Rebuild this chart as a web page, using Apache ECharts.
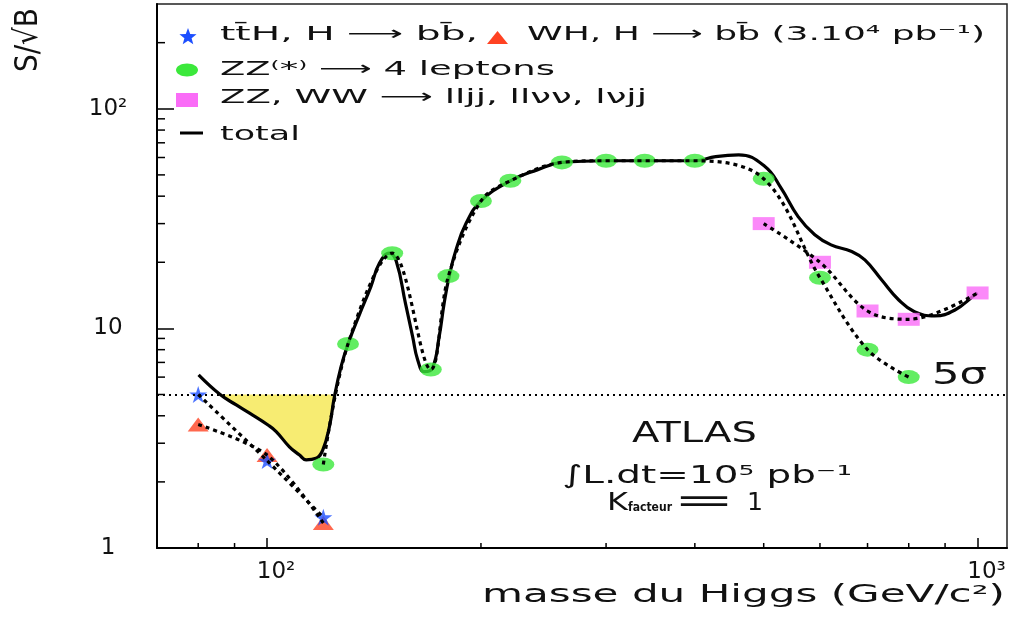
<!DOCTYPE html>
<html><head><meta charset="utf-8">
<script src="https://cdn.jsdelivr.net/npm/echarts@6/dist/echarts.min.js"></script>
<style>html,body{margin:0;padding:0;background:#fff}#c{width:1015px;height:617px}</style>
</head><body><div id="c"></div>
<script>
const FONT = '"DejaVu Sans", sans-serif';

// ---- data ----
const tthMass = [80, 100, 120];
const tthSig  = [5.0, 2.5, 1.38];
const whMass  = [80, 100, 120];
const whSig   = [3.65, 2.65, 1.3];
const zz4lMass = [120, 130, 150, 170, 180, 200, 220, 260, 300, 340, 400, 500, 600, 700, 800];
const zz4lSig  = [2.4, 8.5, 22, 6.5, 17.3, 38, 47, 57, 58, 58, 58, 48, 17, 8, 6];
const zzwwMass = [500, 600, 700, 800, 1000];
const zzwwSig  = [30, 20, 12, 11, 14.5];
const totalMass = [80.1, 85.8, 90.5, 94.5, 100.3, 103, 107.5, 111.1, 113.5, 117.2, 119.8, 122.4, 124.4, 127.1, 130.1,
  134.8, 140, 143.9, 148.6, 152, 156.6, 160.3, 162.9, 166.4, 170.9, 174.7, 177.5, 180.4, 184.4, 190.6, 200,
  220, 240, 260, 300, 340, 400, 428, 461, 502, 529, 559, 590, 622, 665, 694, 733, 774, 815, 870, 928, 991, 1000];
const totalSig = [6.14, 5.01, 4.48, 4.11, 3.63, 3.39, 2.89, 2.65, 2.52, 2.56, 2.80, 3.57, 4.89, 6.70, 8.56,
  11.5, 15.5, 19.8, 22, 20.2, 13.0, 9.15, 7.2, 6.35, 6.6, 9.2, 13, 17.2, 22.7, 30.1, 38,
  47, 52.7, 57, 58, 58, 58, 60.6, 61.7, 54.6, 43.5, 32.3, 26.7, 24.0, 22.4, 20.5, 16.6, 13.5, 11.9, 11.4, 12.1, 14.2, 14.5];
const fiveSigma = 5;
const xRange = [70, 1100];
const yRange = [1, 300];
const xMinorTicks = [80, 90, 200, 300, 400, 500, 600, 700, 800, 900];
const yMinorTicks = [2, 3, 4, 5, 6, 7, 8, 9, 20, 30, 40, 50, 60, 70, 80, 90, 200];
const supDigits = {2: '\u00B2', 3: '\u00B3'};

const zip = (a, b) => a.map((v, i) => [v, b[i]]);

// region where total < 5 sigma (yellow)
const fillPts = (() => {
  const pts = zip(totalMass, totalSig).filter(p => p[0] > 85 && p[0] < 125);
  pts.push([pts[pts.length - 1][0], fiveSigma]);
  pts.push([pts[0][0], fiveSigma]);
  return pts;
})();

// ---- text helpers ----
const mctx = document.createElement('canvas').getContext('2d');
function measure(str, size, weight) {
  mctx.font = (weight || 'normal') + ' ' + size + 'px ' + FONT;
  return mctx.measureText(str).width;
}
function txt(str, left, cy, width, size, extra) {
  extra = extra || {};
  const w = measure(str, size, extra.weight);
  return {
    type: 'text', x: left, y: cy, scaleX: width / w, silent: true, z: 100,
    style: {text: str, x: 0, y: 0, fontSize: size, fontFamily: FONT, fontWeight: extra.weight || 'normal',
      fill: '#111', align: 'left', verticalAlign: 'middle'}
  };
}
function star(cx, cy, r) {
  const pts = [];
  for (let i = 0; i < 10; i++) {
    const a = -Math.PI / 2 + i * Math.PI / 5;
    const rr = i % 2 ? r * 0.42 : r;
    pts.push([cx + rr * Math.cos(a), cy + rr * Math.sin(a)]);
  }
  return pts;
}
const STAR = 'path://M50,0 L61,35 L98,35 L68,57 L79,91 L50,70 L21,91 L32,57 L2,35 L39,35 Z';

const BLUE = '#1d4fff', RED = '#ff4222', GREEN = '#3be83b', PINK = '#fa6cf7', YELLOW = '#f7ec72';
const dotted = {color: '#000', width: 3.2, type: [4, 4], cap: 'butt'};

const chart = echarts.init(document.getElementById('c'), null, {renderer: 'canvas'});

const labelFmt = v => {
  const e = Math.round(Math.log10(v));
  if (e === 0) return '1';
  if (e === 1) return '10';
  return '10' + (supDigits[e] || '');
};

const option = {
  animation: false,
  backgroundColor: '#fff',
  grid: {left: 157, right: 8, top: 4, bottom: 69, show: true, borderColor: '#222', borderWidth: 1.5, containLabel: false},
  xAxis: {
    type: 'log', logBase: 10, min: xRange[0], max: xRange[1],
    axisLine: {show: true, lineStyle: {color: '#000', width: 2}},
    axisTick: {show: true, inside: true, length: 10, lineStyle: {color: '#000', width: 1.5}},
    minorTick: {show: false},
    splitLine: {show: false},
    axisLabel: {formatter: labelFmt, showMinLabel: false, showMaxLabel: false, fontFamily: FONT, fontSize: 23,
      color: '#111', margin: 24, verticalAlign: 'middle', lineHeight: 24, padding: [0, 0, 0, 18]}
  },
  yAxis: {
    type: 'log', logBase: 10, min: yRange[0], max: yRange[1],
    axisLine: {show: true, lineStyle: {color: '#000', width: 2}},
    axisTick: {show: true, inside: true, length: 17, lineStyle: {color: '#000', width: 1.5}},
    splitLine: {show: false},
    axisLabel: {formatter: labelFmt, showMaxLabel: false, fontFamily: FONT, fontSize: 23, color: '#111',
      margin: 49, align: 'center'}
  },
  series: [
    { // yellow region below 5 sigma
      type: 'custom', coordinateSystem: 'cartesian2d', z: 1, silent: true, clip: true,
      data: [[100, 4]],
      renderItem: (params, api) => ({
        type: 'polygon', shape: {points: fillPts.map(p => api.coord(p))}, style: {fill: YELLOW}
      })
    },
    { // total
      name: 'total', type: 'line', z: 2, data: zip(totalMass, totalSig), smooth: 0.45, showSymbol: false,
      symbol: 'none', lineStyle: {color: '#000', width: 3.2}, silent: true,
      markLine: {silent: true, symbol: 'none', label: {show: false},
        lineStyle: {color: '#000', width: 2, type: [2, 4]}, data: [{yAxis: fiveSigma}]}
    },
    {type: 'scatter', z: 3, data: zip(zz4lMass, zz4lSig), symbol: 'circle', symbolSize: [22, 14], itemStyle: {color: GREEN}, silent: true},
    {type: 'scatter', z: 3, data: zip(zzwwMass, zzwwSig), symbol: 'rect', symbolSize: [22, 13], itemStyle: {color: PINK}, silent: true},
    {type: 'scatter', z: 3, data: zip(whMass, whSig), symbol: 'triangle', symbolSize: [21, 14], itemStyle: {color: RED}, silent: true},
    {type: 'scatter', z: 3, data: zip(tthMass, tthSig), symbol: STAR, symbolSize: [18, 17], itemStyle: {color: BLUE}, silent: true},
    {type: 'line', z: 4, data: zip(tthMass, tthSig), smooth: 0.3, symbol: 'none', lineStyle: dotted, silent: true},
    {type: 'line', z: 4, data: zip(whMass, whSig), smooth: 0.3, symbol: 'none', lineStyle: dotted, silent: true},
    {type: 'line', z: 4, data: zip(zz4lMass, zz4lSig), smooth: 0.35, symbol: 'none', lineStyle: dotted, silent: true},
    {type: 'line', z: 4, data: zip(zzwwMass, zzwwSig), smooth: 0.35, symbol: 'none', lineStyle: dotted, silent: true},
    { // x minor ticks
      type: 'custom', coordinateSystem: 'cartesian2d', z: 5, silent: true, clip: false,
      data: xMinorTicks.map(v => [v, yRange[0]]),
      renderItem: (params, api) => {
        const p = api.coord([api.value(0), api.value(1)]);
        const b = params.coordSys.y + params.coordSys.height;
        return {type: 'line', shape: {x1: p[0], y1: b, x2: p[0], y2: b - 5}, style: {stroke: '#000', lineWidth: 1.5}};
      }
    },
    { // y minor ticks
      type: 'custom', coordinateSystem: 'cartesian2d', z: 5, silent: true, clip: false,
      data: yMinorTicks.map(v => [xRange[0], v]),
      renderItem: (params, api) => {
        const p = api.coord([api.value(0), api.value(1)]);
        const l = params.coordSys.x;
        return {type: 'line', shape: {x1: l, y1: p[1], x2: l + 8, y2: p[1]}, style: {stroke: '#000', lineWidth: 1.5}};
      }
    }
  ],
  graphic: [
    // legend
    {type: 'polygon', shape: {points: star(188, 37, 9)}, style: {fill: BLUE}, silent: true, z: 100},
    txt('tt\u0304H, H \u27F6 bb\u0304,', 220, 35, 258, 20),
    {type: 'polygon', shape: {points: [[497.5, 31], [508, 44], [487, 44]]}, style: {fill: RED}, silent: true, z: 100},
    txt('WH, H \u27F6 bb\u0304 (3.10\u2074 pb\u207B\u00B9)', 527, 35, 458, 20),
    {type: 'ellipse', shape: {cx: 187, cy: 70, rx: 11, ry: 6.5}, style: {fill: GREEN}, silent: true, z: 100},
    txt('ZZ\u207D*\u207E \u27F6 4 leptons', 220, 69.5, 335, 20),
    {type: 'rect', shape: {x: 176, y: 93, width: 22, height: 14}, style: {fill: PINK}, silent: true, z: 100},
    txt('ZZ, WW \u27F6 lljj, ll\u03BD\u03BD, l\u03BDjj', 220, 98, 427, 20),
    {type: 'line', shape: {x1: 180, y1: 133, x2: 203, y2: 133}, style: {stroke: '#000', lineWidth: 3}, silent: true, z: 100},
    txt('total', 220, 135, 80, 20),
    // annotations
    txt('5\u03C3', 932, 376, 55, 30),
    txt('ATLAS', 632, 435, 125, 28),
    txt('\u222BL.dt=10\u2075 pb\u207B\u00B9', 562, 476, 290, 25),
    txt('K', 607, 503.5, 21, 24),
    txt('facteur', 628, 508, 44, 12, {weight: 'bold'}),
    txt('=', 673, 503.5, 62, 34),
    txt('1', 747, 503.5, 16, 24),
    // axis titles
    txt('masse du Higgs (GeV/c\u00B2)', 482, 596, 523, 24),
    (() => {
      const s = 'S/\u221AB';
      const w = measure(s, 32);
      return {type: 'text', x: 29, y: 40, rotation: Math.PI / 2, scaleX: 64 / w, silent: true, z: 100,
        style: {text: s, x: 0, y: 0, fontSize: 32, fontFamily: FONT, fill: '#111', align: 'center', verticalAlign: 'middle'}};
    })()
  ]
};
chart.setOption(option);
</script>
</body></html>
